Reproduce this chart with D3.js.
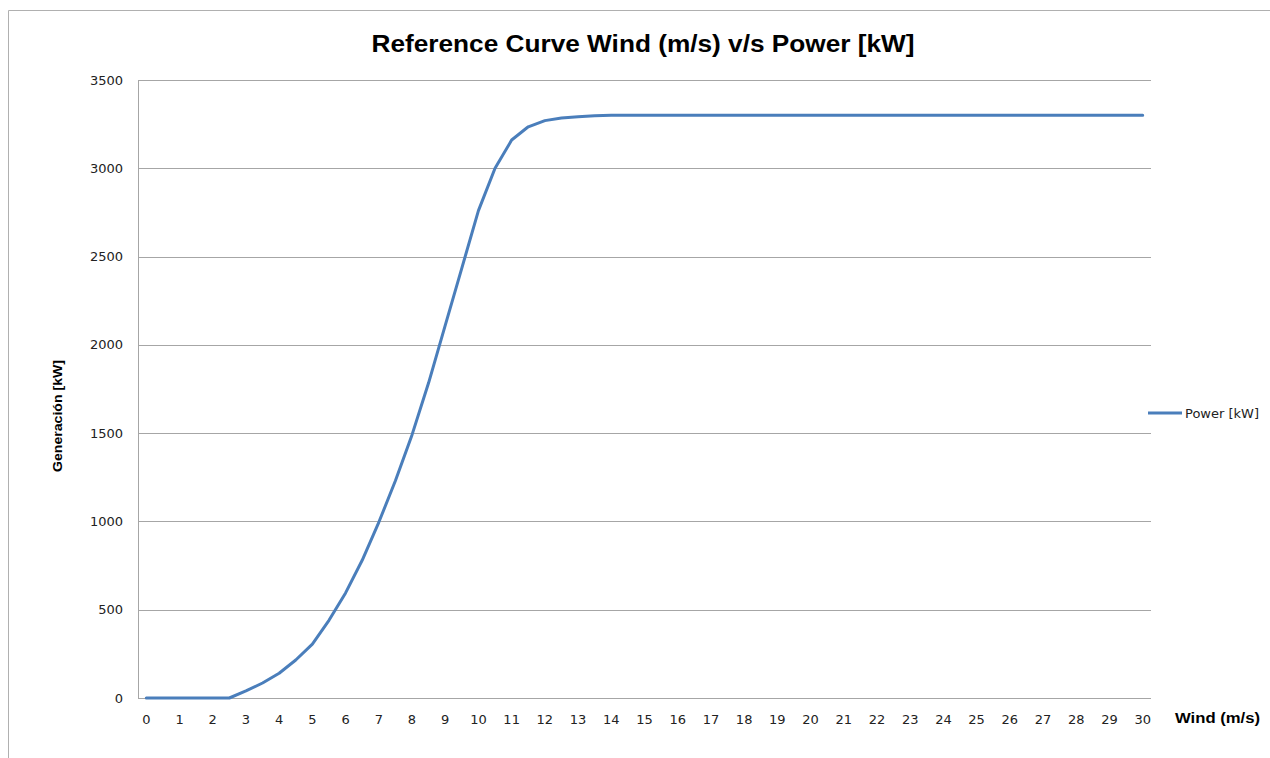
<!DOCTYPE html>
<html>
<head>
<meta charset="utf-8">
<script src="https://cdn.jsdelivr.net/npm/d3@7"></script>
<style>
  body { margin: 0; background: #fff; }
  svg { display: block; }
</style>
</head>
<body>
<svg id="chart" width="1270" height="758"></svg>
<script>
// wind speed categories (m/s), every half step
var windSpeeds = [0, 0.5, 1, 1.5, 2, 2.5, 3, 3.5, 4, 4.5, 5, 5.5, 6, 6.5, 7, 7.5, 8, 8.5, 9, 9.5,
  10, 10.5, 11, 11.5, 12, 12.5, 13, 13.5, 14, 14.5, 15, 15.5, 16, 16.5, 17, 17.5, 18, 18.5, 19, 19.5,
  20, 20.5, 21, 21.5, 22, 22.5, 23, 23.5, 24, 24.5, 25, 25.5, 26, 26.5, 27, 27.5, 28, 28.5, 29, 29.5, 30];

// power [kW]
var power = [0, 0, 0, 0, 0, 0, 40, 85, 140, 215, 305, 440, 595, 780, 995, 1230, 1490, 1785, 2110, 2435,
  2760, 3000, 3160, 3235, 3270, 3285, 3292, 3297, 3300, 3300, 3300, 3300, 3300, 3300, 3300, 3300, 3300, 3300, 3300, 3300,
  3300, 3300, 3300, 3300, 3300, 3300, 3300, 3300, 3300, 3300, 3300, 3300, 3300, 3300, 3300, 3300, 3300, 3300, 3300, 3300, 3300];

var xTickLabels = [0, 1, 2, 3, 4, 5, 6, 7, 8, 9, 10, 11, 12, 13, 14, 15, 16, 17, 18, 19, 20,
  21, 22, 23, 24, 25, 26, 27, 28, 29, 30];
var yTicks = [0, 500, 1000, 1500, 2000, 2500, 3000, 3500];

var chartTitle = "Reference Curve Wind (m/s) v/s Power [kW]";
var yTitle = "Generación  [kW]";
var xTitle = "Wind (m/s)";
var seriesName = "Power [kW]";

var svg = d3.select("#chart");
var plotLeft = 138, plotRight = 1151, plotTop = 80, plotBottom = 698;
var lineColor = "#4a7ebb";
var gridColor = "#a6a6a6";

// outer chart border
svg.append("path")
  .attr("d", "M8.5,760 V10.5 H1275")
  .attr("fill", "none")
  .attr("stroke", "#b0b0b0");

var x = d3.scaleLinear().domain([-0.25, 30.25]).range([plotLeft, plotRight]);
var y = d3.scaleLinear().domain([0, 3500]).range([plotBottom, plotTop]);

// gridlines
svg.append("g").selectAll("line")
  .data(yTicks)
  .enter().append("line")
  .attr("x1", plotLeft).attr("x2", plotRight)
  .attr("y1", function (d) { return Math.round(y(d)) + 0.5; })
  .attr("y2", function (d) { return Math.round(y(d)) + 0.5; })
  .attr("stroke", gridColor)
  .attr("stroke-width", 1);

// y axis line
svg.append("line")
  .attr("x1", plotLeft + 0.5).attr("x2", plotLeft + 0.5)
  .attr("y1", plotTop).attr("y2", plotBottom)
  .attr("stroke", gridColor);

// y tick labels
svg.append("g").selectAll("text")
  .data(yTicks)
  .enter().append("text")
  .attr("x", 123)
  .attr("y", function (d) { return y(d); })
  .attr("dy", "0.35em")
  .attr("text-anchor", "end")
  .attr("font-family", "DejaVu Sans, Verdana, sans-serif")
  .attr("font-size", 13)
  .attr("fill", "#222")
  .text(function (d) { return d; });

// x tick labels
svg.append("g").selectAll("text")
  .data(xTickLabels)
  .enter().append("text")
  .attr("x", function (d) { return x(d); })
  .attr("y", 724)
  .attr("text-anchor", "middle")
  .attr("font-family", "DejaVu Sans, Verdana, sans-serif")
  .attr("font-size", 13)
  .attr("fill", "#222")
  .text(function (d) { return d; });

// the curve
var pts = windSpeeds.map(function (w, i) { return [w, power[i]]; });
var line = d3.line()
  .x(function (d) { return x(d[0]); })
  .y(function (d) { return y(d[1]); });

svg.append("path")
  .datum(pts)
  .attr("d", line)
  .attr("fill", "none")
  .attr("stroke", lineColor)
  .attr("stroke-width", 3)
  .attr("stroke-linejoin", "round")
  .attr("stroke-linecap", "round");

// titles
svg.append("text")
  .attr("x", 643).attr("y", 52)
  .attr("text-anchor", "middle")
  .attr("font-family", "Liberation Sans, Arial, sans-serif")
  .attr("font-weight", "bold")
  .attr("font-size", 23)
  .attr("textLength", 543)
  .attr("lengthAdjust", "spacingAndGlyphs")
  .attr("fill", "#000")
  .text(chartTitle);

svg.append("text")
  .attr("transform", "translate(62,416) rotate(-90)")
  .attr("text-anchor", "middle")
  .attr("font-family", "Liberation Sans, Arial, sans-serif")
  .attr("font-weight", "bold")
  .attr("font-size", 12)
  .attr("textLength", 112)
  .attr("lengthAdjust", "spacingAndGlyphs")
  .attr("fill", "#000")
  .text(yTitle);

svg.append("text")
  .attr("x", 1175).attr("y", 723)
  .attr("font-family", "Liberation Sans, Arial, sans-serif")
  .attr("font-weight", "bold")
  .attr("font-size", 14)
  .attr("textLength", 85)
  .attr("lengthAdjust", "spacingAndGlyphs")
  .attr("fill", "#000")
  .text(xTitle);

// legend
svg.append("line")
  .attr("x1", 1148).attr("x2", 1182)
  .attr("y1", 413).attr("y2", 413)
  .attr("stroke", lineColor)
  .attr("stroke-width", 3);

svg.append("text")
  .attr("x", 1185).attr("y", 413)
  .attr("dy", "0.35em")
  .attr("font-family", "DejaVu Sans, Verdana, sans-serif")
  .attr("font-size", 13)
  .attr("fill", "#222")
  .text(seriesName);
</script>
</body>
</html>
